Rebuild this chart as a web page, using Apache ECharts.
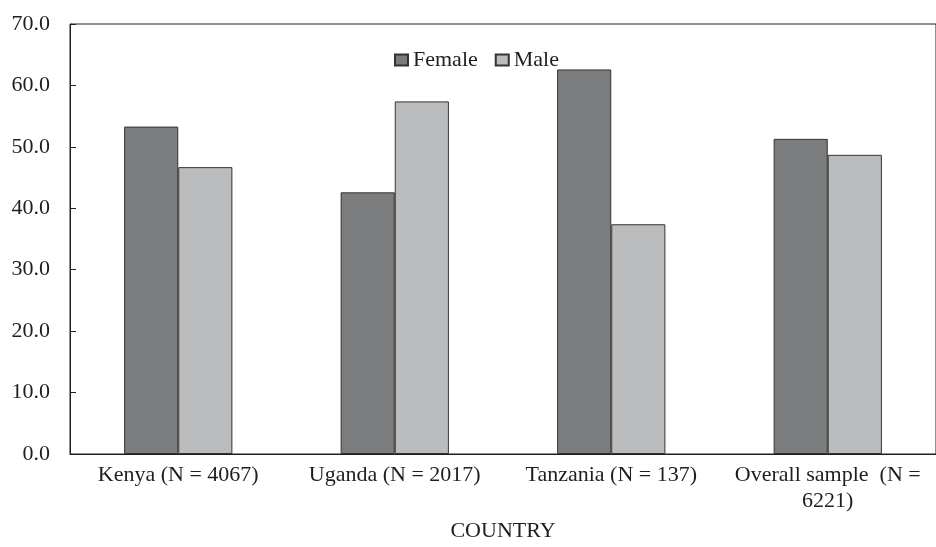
<!DOCTYPE html>
<html><head><meta charset="utf-8">
<script src="https://cdn.jsdelivr.net/npm/echarts@6/dist/echarts.min.js"></script>
<style>html,body{margin:0;padding:0;background:#fff}#c{width:936px;height:547px}</style>
</head><body><div id="c"></div>
<script>
const categories = ['Kenya (N = 4067)', 'Uganda (N = 2017)', 'Tanzania (N = 137)', 'Overall sample  (N =\n6221)'];
const female = [53.3, 42.6, 62.6, 51.3];
const male = [46.7, 57.4, 37.4, 48.7];
const yTicks = [0, 10, 20, 30, 40, 50, 60, 70];
const font = 'Liberation Serif';
const ink = '#1e1e1e';
const chart = echarts.init(document.getElementById('c'));
chart.setOption({
  animation: false,
  textStyle: {fontFamily: font},
  grid: {left: 70, right: -12, top: 24, bottom: 87, show: true, borderColor: ink, borderWidth: 1},
  legend: {
    top: 44, left: 389, itemWidth: 13, itemHeight: 11, itemGap: 17,
    textStyle: {fontFamily: font, fontSize: 22, color: ink},
    data: [{name: 'Female', icon: 'rect', textStyle: {fontFamily: font}}, {name: 'Male', icon: 'rect', textStyle: {fontFamily: font}}]
  },
  xAxis: {
    type: 'category', data: categories,
    name: 'COUNTRY', nameLocation: 'middle', nameGap: 66,
    nameTextStyle: {fontFamily: font, fontSize: 22, color: ink},
    axisLine: {lineStyle: {color: ink}},
    axisTick: {inside: true, length: 6, lineStyle: {color: ink}},
    axisLabel: {fontFamily: font, fontSize: 22, color: ink, margin: 8, lineHeight: 26, interval: 0}
  },
  yAxis: {
    type: 'value', min: yTicks[0], max: yTicks[yTicks.length-1], interval: 10,
    axisLine: {show: true, lineStyle: {color: ink}},
    axisTick: {show: true, inside: true, length: 6, lineStyle: {color: ink}},
    splitLine: {show: false},
    axisLabel: {fontFamily: font, fontSize: 22, color: ink, margin: 20, formatter: v => v.toFixed(1)}
  },
  series: [
    {name: 'Female', type: 'bar', data: female, barWidth: '25%', barGap: '0%',
     itemStyle: {color: '#7a7c7e', borderColor: '#333', borderWidth: 1}},
    {name: 'Male', type: 'bar', data: male, barWidth: '25%',
     itemStyle: {color: '#babcbe', borderColor: '#333', borderWidth: 1}}
  ]
});
</script></body></html>
